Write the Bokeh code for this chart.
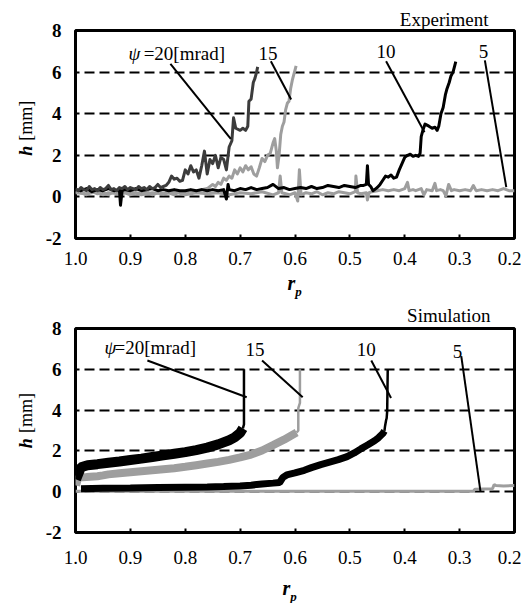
from bokeh.plotting import figure
from bokeh.layouts import column, row
from bokeh.models import Range1d, FixedTicker, Label, PrintfTickFormatter
from bokeh.core.properties import value
from bokeh.embed import file_html
from bokeh.resources import INLINE
import math

# ---------------- data ----------------
X_TICKS = [1.0, 0.9, 0.8, 0.7, 0.6, 0.5, 0.4, 0.3, 0.2]
Y_TICKS = [-2, 0, 2, 4, 6, 8]
GRID_LEVELS = [0, 2, 4, 6]

# Experiment (r_p, h)
exp_psi20 = [(1.000,0.40),(0.995,0.30),(0.990,0.45),(0.985,0.35),(0.980,0.30),(0.975,0.50),(0.970,0.35),(0.965,0.40),(0.960,0.30),(0.955,0.45),
             (0.950,0.35),(0.945,0.40),(0.940,0.55),(0.935,0.35),(0.930,0.40),(0.925,0.30),(0.920,0.45),(0.915,0.40),(0.910,0.50),(0.905,0.35),
             (0.900,0.45),(0.895,0.40),(0.890,0.35),(0.885,0.50),(0.880,0.40),(0.875,0.45),(0.870,0.35),(0.865,0.50),(0.860,0.40),(0.855,0.45),
             (0.850,0.60),(0.845,0.45),(0.840,0.50),(0.835,0.55),(0.830,0.70),(0.825,1.00),(0.820,0.85),(0.815,0.90),(0.810,0.75),(0.805,0.80),
             (0.800,1.30),(0.795,1.10),(0.790,1.50),(0.785,1.20),(0.780,1.30),(0.775,0.90),(0.770,1.50),(0.765,2.20),(0.760,1.10),(0.755,1.80),
             (0.750,1.60),(0.745,2.00),(0.740,1.40),(0.735,1.90),(0.730,1.80),(0.725,1.30),(0.720,2.40),(0.715,2.70),(0.712,3.80),(0.708,3.30),
             (0.700,3.20),(0.695,3.30),(0.690,3.20),(0.686,3.40),(0.684,4.60),(0.680,4.70),(0.676,5.50),(0.673,5.70),(0.670,6.00),(0.668,6.25)]

exp_psi15 = [(1.00,0.25),(0.99,0.20),(0.98,0.10),(0.97,0.25),(0.96,0.15),(0.95,0.20),(0.94,0.10),(0.93,0.25),(0.92,0.15),(0.91,0.20),
             (0.90,0.10),(0.89,0.20),(0.88,0.15),(0.87,0.25),(0.86,0.10),(0.85,0.20),(0.84,0.15),(0.83,0.20),(0.82,0.10),(0.81,0.25),
             (0.80,0.20),(0.79,0.30),(0.78,0.25),(0.77,0.35),(0.76,0.40),(0.75,0.60),(0.745,0.50),(0.74,0.70),(0.735,0.60),(0.73,0.90),
             (0.725,0.80),(0.72,1.00),(0.715,0.90),(0.71,1.30),(0.705,1.10),(0.70,1.40),(0.695,1.20),(0.69,1.50),(0.685,1.30),(0.68,1.45),
             (0.675,1.10),(0.67,1.00),(0.665,1.40),(0.66,1.85),(0.655,1.70),(0.65,2.00),(0.645,2.10),(0.640,2.60),(0.637,2.80),(0.634,2.20),
             (0.632,1.40),(0.629,2.00),(0.626,3.00),(0.623,3.40),(0.620,3.60),(0.617,4.20),(0.614,4.50),(0.611,4.60),(0.608,5.20),(0.605,5.60),
             (0.602,5.90),(0.600,6.10),(0.598,6.30)]

exp_psi10 = [(1.00,0.35),(0.99,0.30),(0.98,0.40),(0.97,0.25),(0.96,0.35),(0.95,0.30),(0.94,0.40),(0.93,0.30),(0.92,0.35),(0.918,-0.40),
             (0.915,0.30),(0.91,0.35),(0.90,0.30),(0.89,0.40),(0.88,0.30),(0.87,0.35),(0.86,0.40),(0.85,0.30),(0.84,0.35),(0.83,0.30),
             (0.82,0.35),(0.81,0.30),(0.80,0.30),(0.79,0.35),(0.78,0.30),(0.77,0.35),(0.76,0.30),(0.75,0.35),(0.74,0.30),(0.73,0.35),
             (0.725,-0.10),(0.722,0.60),(0.72,0.35),(0.71,0.30),(0.70,0.40),(0.69,0.35),(0.68,0.45),(0.67,0.35),(0.66,0.40),(0.65,0.45),
             (0.64,0.60),(0.63,0.40),(0.62,0.45),(0.61,0.35),(0.60,0.40),(0.59,0.45),(0.58,0.40),(0.57,0.50),(0.56,0.40),(0.55,0.45),
             (0.54,0.55),(0.53,0.50),(0.52,0.45),(0.51,0.55),(0.50,0.50),(0.49,0.45),(0.48,0.55),(0.475,0.55),(0.470,0.60),(0.468,1.50),
             (0.466,0.60),(0.462,0.50),(0.458,0.30),(0.455,0.35),(0.450,0.45),(0.445,0.60),(0.440,0.80),(0.435,1.00),(0.430,0.95),(0.425,1.05),
             (0.420,0.90),(0.415,0.95),(0.410,1.30),(0.405,1.60),(0.400,1.90),(0.395,2.00),(0.390,2.05),(0.385,1.95),(0.380,2.00),(0.375,1.95),
             (0.372,2.10),(0.370,2.90),(0.367,3.20),(0.363,3.50),(0.356,3.40),(0.350,3.30),(0.345,3.35),(0.341,3.20),(0.338,3.40),(0.334,4.00),
             (0.330,4.30),(0.326,4.90),(0.323,5.20),(0.319,5.50),(0.316,5.80),(0.312,6.00),(0.309,6.30),(0.307,6.50)]

exp_psi5 = [(1.00,0.20),(0.98,0.15),(0.96,0.25),(0.95,0.10),(0.94,0.20),(0.92,0.15),(0.90,0.25),(0.88,0.10),(0.86,0.20),(0.84,0.15),
            (0.82,0.25),(0.80,0.10),(0.78,0.20),(0.76,0.15),(0.74,0.20),(0.72,0.10),(0.70,0.20),(0.68,0.15),(0.66,0.25),(0.64,0.10),
            (0.63,0.20),(0.627,1.00),(0.624,0.20),(0.61,0.10),(0.60,0.20),(0.595,-0.20),(0.592,1.30),(0.589,0.10),(0.58,0.20),(0.57,0.15),
            (0.56,0.25),(0.55,0.10),(0.54,0.20),(0.53,0.15),(0.52,0.25),(0.51,0.20),(0.50,0.15),(0.49,0.25),(0.489,1.00),(0.486,0.20),
            (0.48,0.15),(0.47,0.20),(0.468,-0.15),(0.465,0.20),(0.46,0.25),(0.45,0.30),(0.44,0.35),(0.43,0.30),(0.42,0.35),(0.41,0.30),
            (0.40,0.40),(0.395,0.70),(0.392,0.30),(0.385,0.35),(0.38,0.30),(0.37,0.40),(0.365,0.10),(0.36,0.35),(0.35,0.30),(0.345,0.65),
            (0.342,0.30),(0.335,0.35),(0.33,0.30),(0.325,0.05),(0.32,0.60),(0.315,0.30),(0.31,0.35),(0.30,0.30),(0.29,0.35),(0.28,0.30),
            (0.275,0.55),(0.27,0.30),(0.26,0.35),(0.25,0.30),(0.24,0.35),(0.23,0.30),(0.22,0.40),(0.21,0.30),(0.20,0.30)]

# Simulation: oscillating band part and thin final rise
sim_psi20_band = [(0.999,0.60),(0.990,1.20),(0.978,1.30),(0.960,1.35),(0.940,1.42),(0.920,1.48),(0.900,1.55),(0.880,1.62),(0.860,1.70),
                  (0.840,1.78),(0.820,1.86),(0.800,1.94),(0.780,2.04),(0.760,2.16),(0.740,2.32),(0.720,2.52),(0.710,2.66),(0.700,2.88),(0.695,3.10)]
sim_psi20_rise = [(0.695,3.10),(0.693,3.30),(0.693,6.00)]

sim_psi15_band = [(0.999,0.30),(0.995,0.70),(0.980,0.72),(0.960,0.76),(0.950,0.80),(0.940,0.85),(0.920,0.90),(0.900,0.95),(0.880,1.00),
                  (0.860,1.05),(0.840,1.10),(0.820,1.15),(0.800,1.22),(0.780,1.30),(0.760,1.38),(0.740,1.46),(0.720,1.56),(0.700,1.68),
                  (0.680,1.82),(0.660,2.02),(0.640,2.28),(0.620,2.55),(0.605,2.78),(0.597,2.90)]
sim_psi15_rise = [(0.597,2.90),(0.594,3.00),(0.594,4.10),(0.591,4.35),(0.591,6.00)]

sim_psi10_band = [(0.990,0.15),(0.950,0.17),(0.900,0.18),(0.850,0.20),(0.800,0.22),(0.760,0.23),(0.730,0.25),(0.700,0.28),(0.680,0.32),
                  (0.660,0.38),(0.640,0.42),(0.628,0.45),(0.622,0.70),(0.615,0.82),(0.600,0.92),(0.583,1.05),(0.570,1.18),(0.553,1.33),
                  (0.537,1.45),(0.521,1.57),(0.505,1.72),(0.492,1.90),(0.480,2.10),(0.467,2.30),(0.455,2.50),(0.448,2.64),(0.440,2.85),(0.437,2.98)]
sim_psi10_rise = [(0.437,2.98),(0.436,3.20),(0.434,3.50),(0.433,3.60),(0.432,3.95),(0.431,6.00)]

sim_psi5 = [(1.000,0.02),(0.275,0.02),(0.272,0.12),(0.240,0.15),(0.237,0.35),(0.234,0.30),(0.220,0.28),(0.200,0.30)]

# annotation leader lines (data units)
exp_leader_x = [[0.827, 0.717], [0.644, 0.607], [0.434, 0.364], [0.254, 0.215]]
exp_leader_y = [[6.40, 2.79], [6.52, 4.68], [6.52, 3.11], [6.56, 0.47]]
sim_leader_x = [[0.869, 0.688], [0.660, 0.586], [0.461, 0.425], [0.297, 0.262]]
sim_leader_y = [[6.43, 4.63], [6.43, 4.63], [6.43, 4.59], [6.65, 0.02]]

FONT = "Liberation Serif"
DARK = "#3c3c3c"
LIGHT = "#9e9e9e"

W = 521          # total width
STRIP_W = 40     # left strip holding the y-axis title
FRAME_H = 208
PLOT_W = W - STRIP_W


def unzip(pairs):
    return [a for a, b in pairs], [b for a, b in pairs]


def make_fig(height, top, label_standoff, title):
    bottom = height - top - FRAME_H
    p = figure(width=PLOT_W, height=height, x_range=Range1d(1.0, 0.2), y_range=Range1d(-2, 8),
               output_backend="svg", toolbar_location=None, title=title,
               min_border_left=75 - STRIP_W, min_border_right=7, min_border_top=top, min_border_bottom=bottom)
    p.outline_line_color = "black"
    p.outline_line_width = 3
    p.background_fill_color = "white"
    p.border_fill_color = "white"
    p.xgrid.visible = False
    p.ygrid.ticker = FixedTicker(ticks=GRID_LEVELS)
    p.ygrid.grid_line_color = "black"
    p.ygrid.grid_line_width = 2
    p.ygrid.grid_line_dash = "10 5"
    p.xaxis.ticker = FixedTicker(ticks=X_TICKS)
    p.xaxis.formatter = PrintfTickFormatter(format="%.1f")
    p.yaxis.ticker = FixedTicker(ticks=Y_TICKS)
    p.yaxis.formatter = PrintfTickFormatter(format="%d")
    for ax in (p.xaxis, p.yaxis):
        ax.axis_line_color = None
        ax.major_label_text_font = FONT
        ax.major_label_text_font_size = "19px"
        ax.major_label_text_color = "black"
        ax.minor_tick_line_color = None
    p.yaxis.major_label_text_font_style = "bold"
    p.xaxis.major_tick_in = 4
    p.xaxis.major_tick_out = 0
    p.xaxis.major_tick_line_width = 2
    p.xaxis.major_tick_line_color = "black"
    p.xaxis.major_label_standoff = label_standoff
    p.yaxis.major_tick_line_color = None
    p.yaxis.major_tick_in = 0
    p.yaxis.major_tick_out = 0
    p.yaxis.major_label_standoff = 14
    p.title.align = "right"
    p.title.text_font = FONT
    p.title.text_font_size = "19px"
    p.title.text_font_style = "normal"
    p.title.text_color = "black"
    return p


def add_text(p, x, y, text, size="19px", style="normal", align="left"):
    p.add_layout(Label(x=x, y=y, text=text, text_font=FONT, text_font_size=size,
                       text_font_style=style, text_align=align, text_baseline="middle",
                       text_color="black"))


def text_strip(w, h):
    s = figure(width=w, height=h, x_range=Range1d(0, w), y_range=Range1d(-h, 0),
               x_axis_type=None, y_axis_type=None, output_backend="svg", toolbar_location=None,
               min_border=0, min_border_left=0, min_border_right=0, min_border_top=0, min_border_bottom=0)
    s.outline_line_color = None
    s.background_fill_color = "white"
    s.border_fill_color = "white"
    s.grid.visible = False
    return s


def strip_text(s, x, y, text, size, style, angle=0.0):
    s.text(x=[x], y=[-y], text=[text], text_font=value(FONT), text_font_size=value(size),
           text_font_style=value(style), text_align=value("center"), text_baseline=value("middle"),
           text_color="black", angle=angle)


def y_title_strip(h, hy, mmy):
    s = text_strip(STRIP_W, h)
    strip_text(s, 25, hy, "h", "18px", "bold italic", math.pi / 2)
    strip_text(s, 25, mmy, "[mm]", "18px", "normal", math.pi / 2)
    return s


def x_title_strip(h, rx, ry):
    s = text_strip(W, h)
    strip_text(s, rx, ry, "r", "20px", "bold italic")
    strip_text(s, rx + 7, ry + 9, "p", "13px", "bold italic")
    return s


# ---------------- Experiment ----------------
H1, T1 = 270, 30
p1 = make_fig(H1, T1, 13, "Experiment")
p1.title.offset = 26
p1.title.standoff = 2
for series, col in ((exp_psi5, LIGHT), (exp_psi15, LIGHT), (exp_psi10, "black"), (exp_psi20, DARK)):
    xs, ys = unzip(series)
    p1.line(xs, ys, line_color=col, line_width=3, line_join="round")
p1.multi_line(exp_leader_x, exp_leader_y, line_color="black", line_width=2)
add_text(p1, 0.9032, 6.89, "ψ", style="italic")
add_text(p1, 0.8758, 6.89, "=20[mrad]")
add_text(p1, 0.649, 6.9, "15", align="center")
add_text(p1, 0.434, 7.0, "10", align="center")
add_text(p1, 0.2566, 7.0, "5", align="center")

# ---------------- Simulation ----------------
H2, T2 = 270, 24
p2 = make_fig(H2, T2, 18, "Simulation")
p2.title.offset = 24
p2.title.standoff = 5
xs, ys = unzip(sim_psi5)
p2.line(xs, ys, line_color=LIGHT, line_width=3)
for band, rise, col, w in ((sim_psi10_band, sim_psi10_rise, "black", 7),
                           (sim_psi15_band, sim_psi15_rise, LIGHT, 8),
                           (sim_psi20_band, sim_psi20_rise, "black", 10)):
    xs, ys = unzip(band)
    p2.line(xs, ys, line_color=col, line_width=w)
    xs, ys = unzip(rise)
    p2.line(xs, ys, line_color=col, line_width=2.5)
p2.multi_line(sim_leader_x, sim_leader_y, line_color="black", line_width=2)
add_text(p2, 0.947, 7.09, "ψ", style="italic")
add_text(p2, 0.9288, 7.09, "=20[mrad]")
add_text(p2, 0.673, 6.99, "15", align="center")
add_text(p2, 0.470, 6.99, "10", align="center")
add_text(p2, 0.304, 6.89, "5", align="center")

top_block = column(row(y_title_strip(H1, 156, 117), p1), x_title_strip(30, 291, 12))
bottom_block = column(row(y_title_strip(H2, 152, 112), p2), x_title_strip(33, 286, 17))

layout = column(top_block, bottom_block)
open("out.html", "w").write(file_html(layout, INLINE))
